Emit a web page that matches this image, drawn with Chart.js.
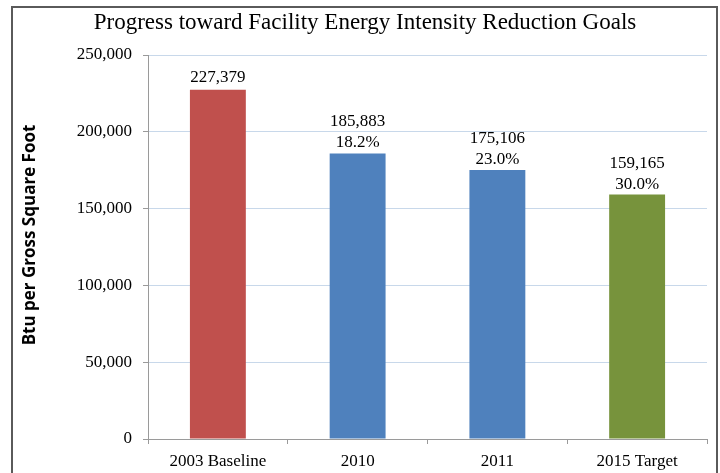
<!DOCTYPE html>
<html>
<head>
<meta charset="utf-8">
<script src="https://cdn.jsdelivr.net/npm/chart.js@4"></script>
<style>
  body { margin: 0; background: #fff; }
  #wrap { position: relative; width: 720px; height: 473px; }
</style>
</head>
<body>
<div id="wrap"><canvas id="barChart" width="720" height="473"></canvas></div>
<script>
// data
const categories = ["2003 Baseline", "2010", "2011", "2015 Target"];
const btuPerSqFt = [227379, 185883, 175106, 159165];
const reductionPct = ["", "18.2%", "23.0%", "30.0%"];
const barColors = ["#C0504D", "#4F81BD", "#4F81BD", "#77933C"];
const yMax = 250000;
const yStep = 50000;

const serif = "'Liberation Serif', 'DejaVu Serif', serif";

// frame, titles and the labels over the bars
const extras = {
  id: "extras",
  beforeDraw(chart) {
    const ctx = chart.ctx;
    ctx.save();
    ctx.fillStyle = "#fff";
    ctx.fillRect(0, 0, chart.width, chart.height);
    ctx.strokeStyle = "#5a5a5a";
    ctx.lineWidth = 2;
    ctx.strokeRect(12, 7, 705, 500);
    ctx.restore();
  },
  afterDatasetsDraw(chart) {
    const ctx = chart.ctx;
    const meta = chart.getDatasetMeta(0);
    ctx.save();
    ctx.fillStyle = "#000";
    ctx.textAlign = "center";
    ctx.textBaseline = "alphabetic";
    ctx.font = "23px " + serif;
    ctx.fillText("Progress toward Facility Energy Intensity Reduction Goals", 365, 29);

    ctx.font = "17px " + serif;
    meta.data.forEach(function (bar, i) {
      const val = btuPerSqFt[i].toLocaleString("en-US");
      if (reductionPct[i]) {
        ctx.fillText(val, bar.x, bar.y - 27);
        ctx.fillText(reductionPct[i], bar.x, bar.y - 6);
      } else {
        ctx.fillText(val, bar.x, bar.y - 8);
      }
    });

    ctx.translate(35, 235);
    ctx.rotate(-Math.PI / 2);
    ctx.font = "bold 17px 'Open Sans', 'DejaVu Sans', sans-serif";
    ctx.fillText("Btu per Gross Square Foot", 0, 0);
    ctx.restore();
  }
};

new Chart(document.getElementById("barChart"), {
  type: "bar",
  data: {
    labels: categories,
    datasets: [{
      data: btuPerSqFt,
      backgroundColor: barColors,
      borderWidth: 0,
      categoryPercentage: 1,
      barPercentage: 0.4
    }]
  },
  options: {
    responsive: false,
    animation: false,
    layout: { padding: { left: 0, top: 55, right: 13, bottom: 0 } },
    plugins: { legend: { display: false }, tooltip: { enabled: false } },
    scales: {
      x: {
        afterFit(scale) { scale.height = 34; },
        grid: { drawOnChartArea: false, drawTicks: true, tickLength: 5, color: "#9a9a9a", offset: true },
        border: { color: "#9a9a9a" },
        ticks: { color: "#000", font: { family: serif, size: 17 }, padding: 7 }
      },
      y: {
        min: 0,
        max: yMax,
        afterFit(scale) { scale.width = 148; },
        grid: { color: "#c8d8ea", tickColor: "#9a9a9a", tickLength: 5 },
        border: { color: "#9a9a9a" },
        ticks: {
          stepSize: yStep,
          color: "#000",
          font: { family: serif, size: 17 },
          padding: 11,
          callback: function (v) { return v.toLocaleString("en-US"); }
        }
      }
    }
  },
  plugins: [extras]
});
</script>
</body>
</html>
